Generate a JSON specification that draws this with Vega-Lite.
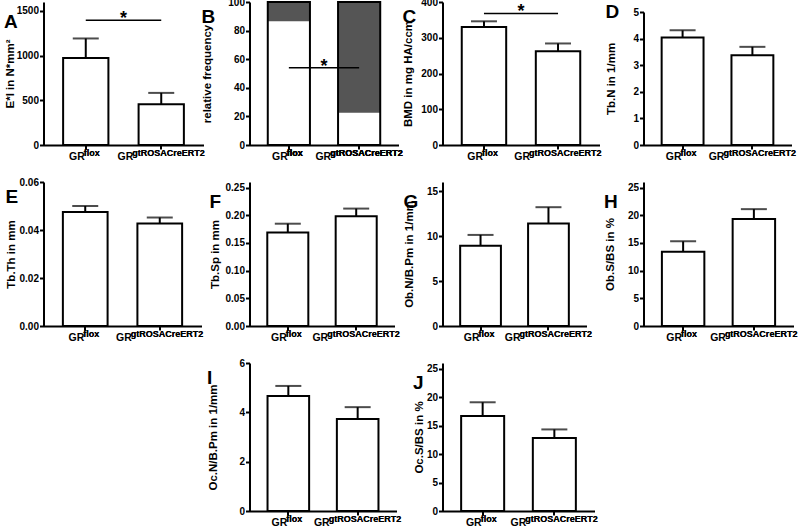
{
"$schema": "https://vega.github.io/schema/vega-lite/v6.json",
"background": "white",
"padding": {"left": 3.5, "top": -3, "right": 0, "bottom": 0},
"columns": 4,
"bounds": "flush",
"align": "each",
"spacing": {"row": 37, "column": 44},
"config": {
 "font": "Liberation Sans",
 "view": {"stroke": null},
 "axis": {"domainColor":"black","domainWidth":2,"tickColor":"black","tickWidth":2,"tickSize":4,"labelColor":"black","labelFontWeight":"bold","labelFontSize":10,"labelPadding":1,"labelOverlap":false,"titleColor":"black","titleFontWeight":"bold","titleFontSize":11.5,"titlePadding":2,"grid":false},
 "title": {"anchor":"start","frame":"bounds","fontSize":19,"fontWeight":"bold","color":"black","baseline":"top","offset":-26}
},
"concat": [
{
 "width": 160, "height": 143,
 "title": {"text": "A", "dy": 4},
 "data": {"values": [{"g":"flox","m":973,"e":1192},{"g":"gt","m":455,"e":583}]},
 "encoding": {"x": {"field":"g","type":"nominal","scale":{"paddingInner":0.4,"paddingOuter":0.26},"axis":{"title":null,"labelExpr":"'GR'","labelAlign":"right","labelAngle":0,"labelFontSize":10.5,"labelPadding":2,"labelOffset":{"condition":{"test":"datum.value==='gt'","value":-28},"value":-1}}}},
 "layer": [
  {"mark": {"type":"bar","fill":"white","stroke":"black","strokeWidth":2},
   "encoding": {"y": {"field":"m","type":"quantitative","scale":{"domain":[0,1500]},"axis":{"title":"E*I in N*mm²","values":[0,500,1000,1500],"tickCount":20,"format":"d","minExtent":26.5,"maxExtent":26.5}}}},
  {"mark": {"type":"rule","strokeWidth":2,"color":"black"}, "encoding": {"y":{"field":"m","type":"quantitative"},"y2":{"field":"e"}}},
  {"mark": {"type":"tick","thickness":2,"size":26,"color":"black"}, "encoding": {"y":{"field":"e","type":"quantitative"}}},
  {"mark": {"type":"text","text":"flox","align":"left","baseline":"alphabetic","fontSize":9,"fontWeight":"bold","dx":-2,"dy":11}, "encoding": {"x":{"datum":"flox","type":"nominal"},"y":{"datum":0,"type":"quantitative"}}},
  {"mark": {"type":"text","text":"gtROSACreERT2","align":"left","baseline":"alphabetic","fontSize":9,"fontWeight":"bold","dx":-29,"dy":11}, "encoding": {"x":{"datum":"gt","type":"nominal"},"y":{"datum":0,"type":"quantitative"}}},
  {"data": {"values": [{"a":"flox","b":"gt","y":1395}]},
   "layer": [
    {"mark": {"type":"rule","strokeWidth":1.5,"color":"black"}, "encoding": {"x":{"field":"a","type":"nominal","title":null},"x2":{"field":"b"},"y":{"field":"y","type":"quantitative"}}},
    {"mark": {"type":"text","text":"*","fontSize":18,"fontWeight":"bold","baseline":"alphabetic","dy":4}, "encoding": {"x":{"field":"a","type":"nominal","title":null,"bandPosition":1.333},"y":{"field":"y","type":"quantitative"}}}
   ]}
 ]
},
{
 "width": 149, "height": 143,
 "title": {"text": "B", "dy": 4},
 "data": {"values": [{"g":"flox","lo":0,"hi":86.5,"c":"w"},{"g":"flox","lo":86.5,"hi":100,"c":"d"},{"g":"gt","lo":0,"hi":22.5,"c":"w"},{"g":"gt","lo":22.5,"hi":100,"c":"d"}]},
 "encoding": {"x": {"field":"g","type":"nominal","scale":{"paddingInner":0.4,"paddingOuter":0.26},"axis":{"title":null,"labelExpr":"'GR'","labelAlign":"right","labelAngle":0,"labelFontSize":10.5,"labelPadding":2,"labelOffset":{"condition":{"test":"datum.value==='gt'","value":-28},"value":-1}}}},
 "layer": [
  {"mark": {"type":"bar","strokeWidth":0},
   "encoding": {"y": {"field":"lo","type":"quantitative","scale":{"domain":[0,100]},"axis":{"title":"relative frequency","values":[0,20,40,60,80,100],"tickCount":20,"format":"d","minExtent":35,"maxExtent":35}},"y2":{"field":"hi"},
    "color":{"field":"c","type":"nominal","scale":{"domain":["w","d"],"range":["white","#555555"]},"legend":null}}},
  {"mark": {"type":"bar","fillOpacity":0,"stroke":"black","strokeWidth":2}, "encoding": {"y":{"aggregate":"max","field":"hi","type":"quantitative"}}},
  {"mark": {"type":"text","text":"flox","align":"left","baseline":"alphabetic","fontSize":9,"fontWeight":"bold","dx":-2,"dy":11}, "encoding": {"x":{"datum":"flox","type":"nominal"},"y":{"datum":0,"type":"quantitative"}}},
  {"mark": {"type":"text","text":"gtROSACreERT2","align":"left","baseline":"alphabetic","fontSize":9,"fontWeight":"bold","dx":-29,"dy":11}, "encoding": {"x":{"datum":"gt","type":"nominal"},"y":{"datum":0,"type":"quantitative"}}},
  {"data": {"values": [{"a":"flox","b":"gt","y":54}]},
   "layer": [
    {"mark": {"type":"rule","strokeWidth":1.5,"color":"black"}, "encoding": {"x":{"field":"a","type":"nominal","title":null},"x2":{"field":"b"},"y":{"field":"y","type":"quantitative"}}},
    {"mark": {"type":"text","text":"*","fontSize":18,"fontWeight":"bold","baseline":"alphabetic","dy":4}, "encoding": {"x":{"field":"a","type":"nominal","title":null,"bandPosition":1.333},"y":{"field":"y","type":"quantitative"}}}
   ]}
 ]
},
{
 "width": 157, "height": 143,
 "title": {"text": "C", "dy": 4},
 "data": {"values": [{"g":"flox","m":330,"e":346},{"g":"gt","m":262,"e":284}]},
 "encoding": {"x": {"field":"g","type":"nominal","scale":{"paddingInner":0.4,"paddingOuter":0.26},"axis":{"title":null,"labelExpr":"'GR'","labelAlign":"right","labelAngle":0,"labelFontSize":10.5,"labelPadding":2,"labelOffset":{"condition":{"test":"datum.value==='gt'","value":-28},"value":-1}}}},
 "layer": [
  {"mark": {"type":"bar","fill":"white","stroke":"black","strokeWidth":2},
   "encoding": {"y": {"field":"m","type":"quantitative","scale":{"domain":[0,400]},"axis":{"title":"BMD in mg HA/ccm","values":[0,100,200,300,400],"tickCount":20,"format":"d","minExtent":27,"maxExtent":27}}}},
  {"mark": {"type":"rule","strokeWidth":2,"color":"black"}, "encoding": {"y":{"field":"m","type":"quantitative"},"y2":{"field":"e"}}},
  {"mark": {"type":"tick","thickness":2,"size":26,"color":"black"}, "encoding": {"y":{"field":"e","type":"quantitative"}}},
  {"mark": {"type":"text","text":"flox","align":"left","baseline":"alphabetic","fontSize":9,"fontWeight":"bold","dx":-2,"dy":11}, "encoding": {"x":{"datum":"flox","type":"nominal"},"y":{"datum":0,"type":"quantitative"}}},
  {"mark": {"type":"text","text":"gtROSACreERT2","align":"left","baseline":"alphabetic","fontSize":9,"fontWeight":"bold","dx":-29,"dy":11}, "encoding": {"x":{"datum":"gt","type":"nominal"},"y":{"datum":0,"type":"quantitative"}}},
  {"data": {"values": [{"a":"flox","b":"gt","y":368}]},
   "layer": [
    {"mark": {"type":"rule","strokeWidth":1.5,"color":"black"}, "encoding": {"x":{"field":"a","type":"nominal","title":null},"x2":{"field":"b"},"y":{"field":"y","type":"quantitative"}}},
    {"mark": {"type":"text","text":"*","fontSize":18,"fontWeight":"bold","baseline":"alphabetic","dy":4}, "encoding": {"x":{"field":"a","type":"nominal","title":null,"bandPosition":1.333},"y":{"field":"y","type":"quantitative"}}}
   ]}
 ]
},
{
 "width": 148, "height": 143,
 "title": {"text": "D", "dy": 4, "offset": -16},
 "data": {"values": [{"g":"flox","m":4.04,"e":4.31},{"g":"gt","m":3.37,"e":3.69}]},
 "encoding": {"x": {"field":"g","type":"nominal","scale":{"paddingInner":0.4,"paddingOuter":0.26},"axis":{"title":null,"labelExpr":"'GR'","labelAlign":"right","labelAngle":0,"labelFontSize":10.5,"labelPadding":2,"labelOffset":{"condition":{"test":"datum.value==='gt'","value":-28},"value":-1}}}},
 "layer": [
  {"mark": {"type":"bar","fill":"white","stroke":"black","strokeWidth":2},
   "encoding": {"y": {"field":"m","type":"quantitative","scale":{"domain":[0,5],"range":[143,10]},"axis":{"title":"Tb.N in 1/mm","values":[0,1,2,3,4,5],"tickCount":20,"format":"d","minExtent":25,"maxExtent":25}}}},
  {"mark": {"type":"rule","strokeWidth":2,"color":"black"}, "encoding": {"y":{"field":"m","type":"quantitative"},"y2":{"field":"e"}}},
  {"mark": {"type":"tick","thickness":2,"size":26,"color":"black"}, "encoding": {"y":{"field":"e","type":"quantitative"}}},
  {"mark": {"type":"text","text":"flox","align":"left","baseline":"alphabetic","fontSize":9,"fontWeight":"bold","dx":-2,"dy":11}, "encoding": {"x":{"datum":"flox","type":"nominal"},"y":{"datum":0,"type":"quantitative"}}},
  {"mark": {"type":"text","text":"gtROSACreERT2","align":"left","baseline":"alphabetic","fontSize":9,"fontWeight":"bold","dx":-29,"dy":11}, "encoding": {"x":{"datum":"gt","type":"nominal"},"y":{"datum":0,"type":"quantitative"}}}
 ]
},
{
 "width": 158, "height": 144,
 "title": {"text": "E", "dy": 4},
 "data": {"values": [{"g":"flox","m":0.0475,"e":0.0500},{"g":"gt","m":0.0427,"e":0.0452}]},
 "encoding": {"x": {"field":"g","type":"nominal","scale":{"paddingInner":0.4,"paddingOuter":0.26},"axis":{"title":null,"labelExpr":"'GR'","labelAlign":"right","labelAngle":0,"labelFontSize":10.5,"labelPadding":2,"labelOffset":{"condition":{"test":"datum.value==='gt'","value":-28},"value":-1}}}},
 "layer": [
  {"mark": {"type":"bar","fill":"white","stroke":"black","strokeWidth":2},
   "encoding": {"y": {"field":"m","type":"quantitative","scale":{"domain":[0,0.06]},"axis":{"title":"Tb.Th in mm","values":[0,0.02,0.04,0.06],"tickCount":20,"format":".2f","minExtent":25,"maxExtent":25}}}},
  {"mark": {"type":"rule","strokeWidth":2,"color":"black"}, "encoding": {"y":{"field":"m","type":"quantitative"},"y2":{"field":"e"}}},
  {"mark": {"type":"tick","thickness":2,"size":26,"color":"black"}, "encoding": {"y":{"field":"e","type":"quantitative"}}},
  {"mark": {"type":"text","text":"flox","align":"left","baseline":"alphabetic","fontSize":9,"fontWeight":"bold","dx":-2,"dy":11}, "encoding": {"x":{"datum":"flox","type":"nominal"},"y":{"datum":0,"type":"quantitative"}}},
  {"mark": {"type":"text","text":"gtROSACreERT2","align":"left","baseline":"alphabetic","fontSize":9,"fontWeight":"bold","dx":-29,"dy":11}, "encoding": {"x":{"datum":"gt","type":"nominal"},"y":{"datum":0,"type":"quantitative"}}}
 ]
},
{
 "width": 145, "height": 144,
 "title": {"text": "F", "dy": 4},
 "data": {"values": [{"g":"flox","m":0.1686,"e":0.1847},{"g":"gt","m":0.198,"e":0.212}]},
 "encoding": {"x": {"field":"g","type":"nominal","scale":{"paddingInner":0.4,"paddingOuter":0.26},"axis":{"title":null,"labelExpr":"'GR'","labelAlign":"right","labelAngle":0,"labelFontSize":10.5,"labelPadding":2,"labelOffset":{"condition":{"test":"datum.value==='gt'","value":-28},"value":-1}}}},
 "layer": [
  {"mark": {"type":"bar","fill":"white","stroke":"black","strokeWidth":2},
   "encoding": {"y": {"field":"m","type":"quantitative","scale":{"domain":[0,0.25]},"axis":{"title":"Tb.Sp in mm","values":[0,0.05,0.1,0.15,0.2,0.25],"tickCount":20,"format":".2f","minExtent":27,"maxExtent":27}}}},
  {"mark": {"type":"rule","strokeWidth":2,"color":"black"}, "encoding": {"y":{"field":"m","type":"quantitative"},"y2":{"field":"e"}}},
  {"mark": {"type":"tick","thickness":2,"size":26,"color":"black"}, "encoding": {"y":{"field":"e","type":"quantitative"}}},
  {"mark": {"type":"text","text":"flox","align":"left","baseline":"alphabetic","fontSize":9,"fontWeight":"bold","dx":-2,"dy":11}, "encoding": {"x":{"datum":"flox","type":"nominal"},"y":{"datum":0,"type":"quantitative"}}},
  {"mark": {"type":"text","text":"gtROSACreERT2","align":"left","baseline":"alphabetic","fontSize":9,"fontWeight":"bold","dx":-29,"dy":11}, "encoding": {"x":{"datum":"gt","type":"nominal"},"y":{"datum":0,"type":"quantitative"}}}
 ]
},
{
 "width": 144, "height": 144,
 "title": {"text": "G", "dy": 4},
 "data": {"values": [{"g":"flox","m":8.92,"e":10.12},{"g":"gt","m":11.39,"e":13.2}]},
 "encoding": {"x": {"field":"g","type":"nominal","scale":{"paddingInner":0.4,"paddingOuter":0.26},"axis":{"title":null,"labelExpr":"'GR'","labelAlign":"right","labelAngle":0,"labelFontSize":10.5,"labelPadding":2,"labelOffset":{"condition":{"test":"datum.value==='gt'","value":-28},"value":-1}}}},
 "layer": [
  {"mark": {"type":"bar","fill":"white","stroke":"black","strokeWidth":2},
   "encoding": {"y": {"field":"m","type":"quantitative","scale":{"domain":[0,15]},"axis":{"title":"Ob.N/B.Pm in 1/mm","values":[0,5,10,15],"tickCount":20,"format":"d","minExtent":26,"maxExtent":26}}}},
  {"mark": {"type":"rule","strokeWidth":2,"color":"black"}, "encoding": {"y":{"field":"m","type":"quantitative"},"y2":{"field":"e"}}},
  {"mark": {"type":"tick","thickness":2,"size":26,"color":"black"}, "encoding": {"y":{"field":"e","type":"quantitative"}}},
  {"mark": {"type":"text","text":"flox","align":"left","baseline":"alphabetic","fontSize":9,"fontWeight":"bold","dx":-2,"dy":11}, "encoding": {"x":{"datum":"flox","type":"nominal"},"y":{"datum":0,"type":"quantitative"}}},
  {"mark": {"type":"text","text":"gtROSACreERT2","align":"left","baseline":"alphabetic","fontSize":9,"fontWeight":"bold","dx":-29,"dy":11}, "encoding": {"x":{"datum":"gt","type":"nominal"},"y":{"datum":0,"type":"quantitative"}}}
 ]
},
{
 "width": 150, "height": 144,
 "title": {"text": "H", "dy": 4},
 "data": {"values": [{"g":"flox","m":13.42,"e":15.28},{"g":"gt","m":19.33,"e":21.1}]},
 "encoding": {"x": {"field":"g","type":"nominal","scale":{"paddingInner":0.4,"paddingOuter":0.26},"axis":{"title":null,"labelExpr":"'GR'","labelAlign":"right","labelAngle":0,"labelFontSize":10.5,"labelPadding":2,"labelOffset":{"condition":{"test":"datum.value==='gt'","value":-28},"value":-1}}}},
 "layer": [
  {"mark": {"type":"bar","fill":"white","stroke":"black","strokeWidth":2},
   "encoding": {"y": {"field":"m","type":"quantitative","scale":{"domain":[0,25]},"axis":{"title":"Ob.S/BS in %","values":[0,5,10,15,20,25],"tickCount":20,"format":"d","minExtent":26.5,"maxExtent":26.5}}}},
  {"mark": {"type":"rule","strokeWidth":2,"color":"black"}, "encoding": {"y":{"field":"m","type":"quantitative"},"y2":{"field":"e"}}},
  {"mark": {"type":"tick","thickness":2,"size":26,"color":"black"}, "encoding": {"y":{"field":"e","type":"quantitative"}}},
  {"mark": {"type":"text","text":"flox","align":"left","baseline":"alphabetic","fontSize":9,"fontWeight":"bold","dx":-2,"dy":11}, "encoding": {"x":{"datum":"flox","type":"nominal"},"y":{"datum":0,"type":"quantitative"}}},
  {"mark": {"type":"text","text":"gtROSACreERT2","align":"left","baseline":"alphabetic","fontSize":9,"fontWeight":"bold","dx":-29,"dy":11}, "encoding": {"x":{"datum":"gt","type":"nominal"},"y":{"datum":0,"type":"quantitative"}}}
 ]
},
{
 "width": 162, "height": 148,
 "data": {"values": []},
 "mark": "point"
},
{
 "width": 147, "height": 148,
 "title": {"text": "I", "dy": 4},
 "data": {"values": [{"g":"flox","m":4.66,"e":5.07},{"g":"gt","m":3.73,"e":4.21}]},
 "encoding": {"x": {"field":"g","type":"nominal","scale":{"paddingInner":0.4,"paddingOuter":0.26},"axis":{"title":null,"labelExpr":"'GR'","labelAlign":"right","labelAngle":0,"labelFontSize":10.5,"labelPadding":2,"labelOffset":{"condition":{"test":"datum.value==='gt'","value":-28},"value":-1}}}},
 "layer": [
  {"mark": {"type":"bar","fill":"white","stroke":"black","strokeWidth":2},
   "encoding": {"y": {"field":"m","type":"quantitative","scale":{"domain":[0,6]},"axis":{"title":"Oc.N/B.Pm in 1/mm","values":[0,2,4,6],"tickCount":20,"format":"d","minExtent":29.5,"maxExtent":29.5}}}},
  {"mark": {"type":"rule","strokeWidth":2,"color":"black"}, "encoding": {"y":{"field":"m","type":"quantitative"},"y2":{"field":"e"}}},
  {"mark": {"type":"tick","thickness":2,"size":26,"color":"black"}, "encoding": {"y":{"field":"e","type":"quantitative"}}},
  {"mark": {"type":"text","text":"flox","align":"left","baseline":"alphabetic","fontSize":9,"fontWeight":"bold","dx":-2,"dy":11}, "encoding": {"x":{"datum":"flox","type":"nominal"},"y":{"datum":0,"type":"quantitative"}}},
  {"mark": {"type":"text","text":"gtROSACreERT2","align":"left","baseline":"alphabetic","fontSize":9,"fontWeight":"bold","dx":-29,"dy":11}, "encoding": {"x":{"datum":"gt","type":"nominal"},"y":{"datum":0,"type":"quantitative"}}}
 ]
},
{
 "width": 152, "height": 148,
 "title": {"text": "J", "dy": 4},
 "data": {"values": [{"g":"flox","m":16.69,"e":19.1},{"g":"gt","m":12.81,"e":14.33}]},
 "encoding": {"x": {"field":"g","type":"nominal","scale":{"paddingInner":0.4,"paddingOuter":0.26},"axis":{"title":null,"labelExpr":"'GR'","labelAlign":"right","labelAngle":0,"labelFontSize":10.5,"labelPadding":2,"labelOffset":{"condition":{"test":"datum.value==='gt'","value":-28},"value":-1}}}},
 "layer": [
  {"mark": {"type":"bar","fill":"white","stroke":"black","strokeWidth":2},
   "encoding": {"y": {"field":"m","type":"quantitative","scale":{"domain":[0,25]},"axis":{"title":"Oc.S/BS in %","values":[0,5,10,15,20,25],"tickCount":20,"format":"d","minExtent":16.5,"maxExtent":16.5}}}},
  {"mark": {"type":"rule","strokeWidth":2,"color":"black"}, "encoding": {"y":{"field":"m","type":"quantitative"},"y2":{"field":"e"}}},
  {"mark": {"type":"tick","thickness":2,"size":26,"color":"black"}, "encoding": {"y":{"field":"e","type":"quantitative"}}},
  {"mark": {"type":"text","text":"flox","align":"left","baseline":"alphabetic","fontSize":9,"fontWeight":"bold","dx":-2,"dy":11}, "encoding": {"x":{"datum":"flox","type":"nominal"},"y":{"datum":0,"type":"quantitative"}}},
  {"mark": {"type":"text","text":"gtROSACreERT2","align":"left","baseline":"alphabetic","fontSize":9,"fontWeight":"bold","dx":-29,"dy":11}, "encoding": {"x":{"datum":"gt","type":"nominal"},"y":{"datum":0,"type":"quantitative"}}}
 ]
}
]
}
